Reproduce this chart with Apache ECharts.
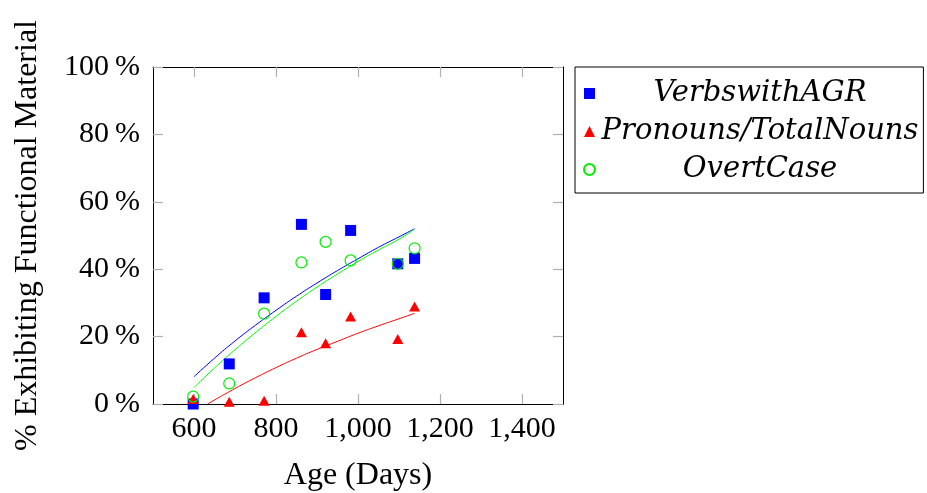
<!DOCTYPE html>
<html><head><meta charset="utf-8">
<script src="https://cdn.jsdelivr.net/npm/echarts@6/dist/echarts.min.js"></script>
<style>html,body{margin:0;padding:0;background:#fff;overflow:hidden}#c{width:927px;height:493px}</style>
</head><body><div id="c"></div>
<script>
// Scatter data (age in days, % exhibiting functional material)
const ages = [598, 686, 771, 862, 921, 982, 1097, 1138];
const verbsAgr = [0, 11.9, 31.5, 53.3, 32.5, 51.5, 41.6, 43.2];
const pronouns = [1.5, 0.7, 1.0, 21.3, 18.0, 26.0, 19.3, 28.9];
const overtCase = [2.2, 6.1, 26.8, 42.0, 48.1, 42.6, 41.6, 46.2];
// Trend curves
const fitAges = [600, 650, 700, 750, 800, 850, 900, 950, 1000, 1050, 1100, 1138];
const verbsFit = [8.1, 13.6, 18.7, 23.4, 27.8, 32.0, 35.9, 39.6, 43.1, 46.5, 49.6, 52.0];
const overtFit = [4.9, 10.7, 16.1, 21.2, 26.0, 30.5, 34.7, 38.6, 42.3, 45.7, 48.9, 51.9];
const pronFitAges = [633, 700, 750, 800, 850, 900, 950, 1000, 1050, 1100, 1138];
const pronFit = [0, 4.6, 7.8, 10.8, 13.6, 16.2, 18.6, 21.0, 23.2, 25.3, 26.9];
const xTicks = [600, 800, 1000, 1200, 1400];
const seriesNames = ['VerbswithAGR', 'Pronouns/TotalNouns', 'OvertCase'];

const zip = (xs, ys) => xs.map((x, i) => [x, ys[i]]);
const serif = "'Liberation Serif', serif";
const fmtX = v => String(v).replace(/\B(?=(\d{3})+(?!\d))/g, ',');
const tick = () => ({ show: true, inside: true, length: 10, lineStyle: { color: '#b0b0b0', width: 1.2 } });
const axLine = () => ({ show: true, onZero: false, lineStyle: { color: '#000', width: 1 } });

const chart = echarts.init(document.getElementById('c'), null, { renderer: 'canvas' });
chart.setOption({
  animation: false,
  backgroundColor: '#fff',
  grid: { left: 153, right: 364, top: 67, bottom: 89, containLabel: false, outerBoundsMode: 'none' },
  xAxis: [{
    type: 'value', min: 500, max: 1500, position: 'bottom',
    name: 'Age (Days)', nameLocation: 'middle', nameGap: 56,
    nameTextStyle: { fontFamily: serif, fontSize: 32, color: '#000' },
    axisLine: axLine(),
    axisTick: Object.assign(tick(), { customValues: xTicks }),
    axisLabel: { customValues: xTicks, formatter: fmtX, fontFamily: serif, fontSize: 30, color: '#000', margin: 10 },
    splitLine: { show: false }
  }, {
    type: 'value', min: 500, max: 1500, position: 'top',
    axisLine: axLine(),
    axisTick: Object.assign(tick(), { customValues: xTicks }),
    axisLabel: { show: false }, splitLine: { show: false }
  }],
  yAxis: [{
    type: 'value', min: 0, max: 100, interval: 20, position: 'left',
    name: '% Exhibiting Functional Material', nameLocation: 'middle', nameGap: 109, nameRotate: 90,
    nameTextStyle: { fontFamily: serif, fontSize: 32, color: '#000' },
    axisLine: axLine(),
    axisTick: tick(),
    axisLabel: { formatter: '{value}\u2009%', fontFamily: serif, fontSize: 30, color: '#000', margin: 13 },
    splitLine: { show: false }
  }, {
    type: 'value', min: 0, max: 100, interval: 20, position: 'right',
    axisLine: axLine(),
    axisTick: tick(), axisLabel: { show: false }, splitLine: { show: false }
  }],
  legend: {
    data: seriesNames,
    orient: 'vertical', left: 575, top: 67,
    borderColor: '#000', borderWidth: 1, borderRadius: 0,
    padding: [12, 5, 9, 8], itemGap: 9, itemWidth: 11, itemHeight: 11,
    formatter: n => '{t|' + n + '}',
    textStyle: {
      rich: { t: { width: 320, align: 'center', fontFamily: "'DejaVu Serif', serif", fontStyle: 'italic', fontSize: 29, color: '#000' } }
    }
  },
  series: [
    { name: 'fitVerbs', type: 'line', data: zip(fitAges, verbsFit), smooth: true, showSymbol: false, symbol: 'none',
      lineStyle: { color: '#0000ff', width: 1 }, z: 1, silent: true },
    { name: 'fitPron', type: 'line', data: zip(pronFitAges, pronFit), smooth: true, showSymbol: false, symbol: 'none',
      lineStyle: { color: '#ff0000', width: 1 }, z: 1, silent: true },
    { name: 'fitOvert', type: 'line', data: zip(fitAges, overtFit), smooth: true, showSymbol: false, symbol: 'none',
      lineStyle: { color: '#00ff00', width: 1 }, z: 1, silent: true },
    { name: seriesNames[0], type: 'scatter', data: zip(ages, verbsAgr), symbol: 'rect', symbolSize: 11,
      itemStyle: { color: '#0000ff', opacity: 1 }, z: 2 },
    { name: seriesNames[1], type: 'scatter', data: zip(ages, pronouns), symbol: 'triangle', symbolSize: [11, 10],
      itemStyle: { color: '#ff0000', opacity: 1 }, z: 3 },
    { name: seriesNames[2], type: 'scatter', data: zip(ages, overtCase), symbol: 'circle', symbolSize: 11,
      itemStyle: { color: 'rgba(255,255,255,0)', borderColor: '#00ee00', borderWidth: 1.2, opacity: 1 }, z: 4 }
  ]
});
</script></body></html>
